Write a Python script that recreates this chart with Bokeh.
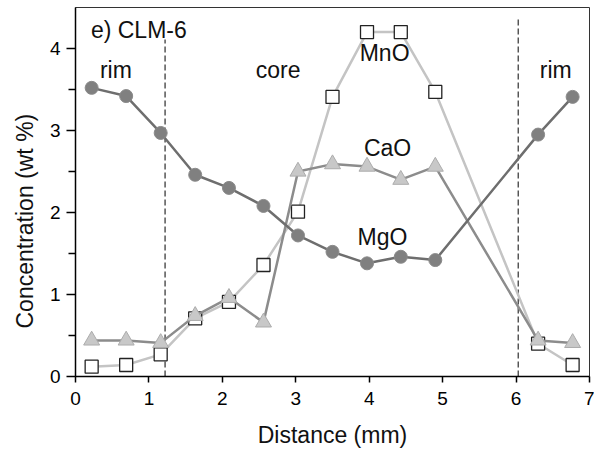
from bokeh.plotting import figure
from bokeh.models import Range1d, FixedTicker, Label, Title
from bokeh.embed import file_html
from bokeh.resources import INLINE

# --- data ---
x_mgo = [0.22, 0.69, 1.16, 1.63, 2.09, 2.56, 3.03, 3.50, 3.97, 4.43, 4.90, 6.30, 6.77]
mgo = [3.52, 3.42, 2.97, 2.46, 2.30, 2.08, 1.72, 1.52, 1.38, 1.46, 1.42, 2.95, 3.41]

x_mno = [0.22, 0.69, 1.16, 1.63, 2.09, 2.56, 3.03, 3.50, 3.97, 4.43, 4.90, 6.30, 6.77]
mno = [0.12, 0.14, 0.27, 0.71, 0.91, 1.36, 2.01, 3.41, 4.20, 4.20, 3.47, 0.40, 0.14]

x_cao = [0.22, 0.69, 1.16, 1.63, 2.09, 2.56, 3.03, 3.50, 3.97, 4.43, 4.90, 6.30, 6.77]
cao = [0.44, 0.44, 0.41, 0.74, 0.96, 0.66, 2.50, 2.59, 2.56, 2.40, 2.56, 0.44, 0.41]

boundary_x = [1.22, 6.03]
boundary_top = [4.11, 4.38]

x_ticks = [0, 1, 2, 3, 4, 5, 6, 7]
y_ticks = [0, 1, 2, 3, 4]
y_minor = [0.5, 1.5, 2.5, 3.5]

panel_label = "e) CLM-6"
zone_labels = ["rim", "core", "rim"]
series_labels = ["MnO", "CaO", "MgO"]

FONT = "Liberation Sans"

p = figure(width=594, height=451, output_backend="svg", toolbar_location=None,
           x_range=Range1d(0, 7), y_range=Range1d(0, 4.5),
           min_border_left=75, min_border_right=5, min_border_top=7, min_border_bottom=75)
p.background_fill_color = "white"
p.border_fill_color = "white"
p.grid.visible = False
p.outline_line_color = "#333333"
p.outline_line_width = 1

# axes
for ax in (p.xaxis[0], p.yaxis[0]):
    ax.axis_line_color = "black"
    ax.axis_line_width = 1.5
    ax.major_tick_line_color = "black"
    ax.major_tick_line_width = 1.5
    ax.minor_tick_line_color = "black"
    ax.minor_tick_line_width = 1.5
    ax.major_label_text_font = FONT
    ax.major_label_text_font_size = "19px"
    ax.major_label_text_color = "black"
    ax.axis_label_text_font = FONT
    ax.axis_label_text_font_size = "23px"
    ax.axis_label_text_font_style = "normal"
    ax.axis_label_text_color = "#111111"
    ax.major_tick_in = 0

p.xaxis.ticker = FixedTicker(ticks=x_ticks)
p.xaxis.major_tick_out = 6
p.xaxis.minor_tick_out = 0
p.xaxis.major_label_standoff = 9
p.xaxis.axis_label = "Distance (mm)"
p.xaxis.axis_label_standoff = 14

p.yaxis.ticker = FixedTicker(ticks=y_ticks, minor_ticks=y_minor)
p.yaxis.major_tick_out = 9
p.yaxis.minor_tick_out = 7
p.yaxis.minor_tick_in = 0
p.yaxis.major_label_standoff = 6
p.yaxis.major_label_orientation = "horizontal"

ytitle = Title(text="Concentration (wt %)", align="left", offset=48,
               text_font=FONT, text_font_size="23px", text_font_style="normal",
               text_color="#111111", standoff=17)
p.add_layout(ytitle, "left")

# boundary dashed lines
p.segment(x0=boundary_x, y0=[0, 0], x1=boundary_x, y1=boundary_top,
          line_color="#555555", line_width=1.5, line_dash="6 3")

# MnO
p.line(x_mno, mno, line_color="#c4c4c4", line_width=2.5)
p.scatter(x_mno, mno, marker="square", size=13, fill_color="white",
          line_color="#222222", line_width=1.3)

# CaO
p.line(x_cao, cao, line_color="#8c8c8c", line_width=2.5)
p.scatter(x_cao, cao, marker="triangle", size=16, fill_color="#c8c8c8",
          line_color="#acacac", line_width=1)

# MgO
p.line(x_mgo, mgo, line_color="#6e6e6e", line_width=2.5)
p.scatter(x_mgo, mgo, marker="circle", size=13, fill_color="#808080",
          line_color="#8a8a8a", line_width=1)

def lab(x, y, t, align="center"):
    p.add_layout(Label(x=x, y=y, text=t, text_font=FONT, text_font_size="23px",
                       text_align=align, text_baseline="middle", text_color="#111111"))

lab(0.21, 4.23, panel_label, align="left")
lab(0.55, 3.74, zone_labels[0])
lab(2.76, 3.74, zone_labels[1])
lab(6.54, 3.74, zone_labels[2])
lab(4.21, 3.95, series_labels[0])
lab(4.25, 2.79, series_labels[1])
lab(4.18, 1.70, series_labels[2])

open("out.html", "w").write(file_html(p, INLINE))
